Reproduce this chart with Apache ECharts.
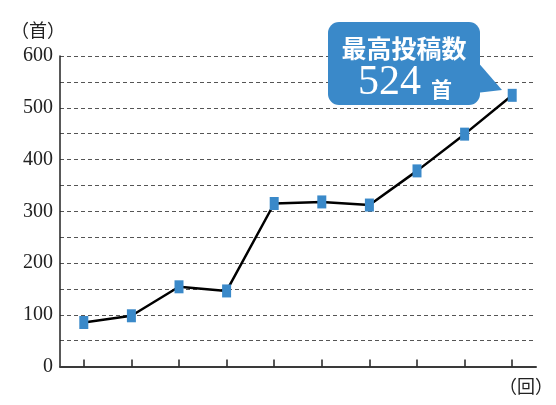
<!DOCTYPE html>
<html>
<head>
<meta charset="utf-8">
<script src="https://cdn.jsdelivr.net/npm/echarts@6/dist/echarts.min.js"></script>
<style>
  html, body { margin: 0; padding: 0; background: #fff; }
  #chart { width: 556px; height: 405px; }
</style>
</head>
<body>
<div id="chart"></div>
<script>
// 回ごとの投稿数
const rounds = ['1', '2', '3', '4', '5', '6', '7', '8', '9', '10'];
const counts = [85, 98, 154, 146, 315, 318, 312, 378, 449, 524];
const yTicks = [0, 100, 200, 300, 400, 500, 600];

const serif = '"Liberation Serif", "DejaVu Serif", "Noto Sans CJK JP", serif';
const blue = '#3a89c9';

const chart = echarts.init(document.getElementById('chart'));

const option = {
  animation: false,
  grid: { left: 60, right: 20, top: 56, bottom: 38.5 },
  xAxis: {
    type: 'category',
    data: rounds,
    boundaryGap: true,
    axisLine: { lineStyle: { color: '#3a3a3a', width: 2 } },
    axisTick: { show: true, interval: 0, alignWithLabel: true, inside: true, length: 7,
                lineStyle: { color: '#222', width: 1.5 } },
    axisLabel: { show: true, interval: 0, color: 'rgba(0,0,0,0)', formatter: () => '' },
    splitLine: { show: false }
  },
  yAxis: {
    type: 'value',
    min: 0,
    max: 600,
    interval: 50,
    axisLine: { show: true, lineStyle: { color: '#222', width: 1.5 } },
    axisTick: { show: false },
    axisLabel: {
      color: '#222',
      fontFamily: serif,
      fontSize: 20,
      margin: 7,
      formatter: v => (yTicks.indexOf(v) >= 0 ? String(v) : '')
    },
    splitLine: { lineStyle: { color: '#555', type: [4, 3], width: 1 } }
  },
  series: [{
    type: 'line',
    data: counts,
    symbol: 'rect',
    symbolSize: [9, 13],
    itemStyle: { color: blue },
    lineStyle: { color: '#000', width: 2.5 },
    z: 3
  }],
  graphic: [
    { type: 'text', left: 11, top: 23,
      style: { text: '（首）', font: '18px ' + serif, fill: '#222' } },
    { type: 'text', left: 499, top: 379,
      style: { text: '（回）', font: '18px ' + serif, fill: '#222' } },
    // 吹き出し
    { type: 'polygon', z: 10,
      shape: { points: [[476, 60], [502, 90], [476, 93]] },
      style: { fill: blue } },
    { type: 'rect', z: 10,
      shape: { x: 328, y: 22, width: 152, height: 83, r: 11 },
      style: { fill: blue } },
    { type: 'text', z: 11, x: 404, y: 48,
      style: { text: '最高投稿数', font: 'bold 25px "Noto Sans CJK JP", serif', fill: '#fff',
               align: 'center', verticalAlign: 'middle' } },
    { type: 'text', z: 11, x: 421, y: 83,
      style: { text: '524', font: '42px ' + serif, fill: '#fff',
               align: 'right', verticalAlign: 'middle' } },
    { type: 'text', z: 11, x: 431, y: 89,
      style: { text: '首', font: 'bold 21px "Noto Sans CJK JP", serif', fill: '#fff',
               align: 'left', verticalAlign: 'middle' } }
  ]
};

chart.setOption(option);
</script>
</body>
</html>
